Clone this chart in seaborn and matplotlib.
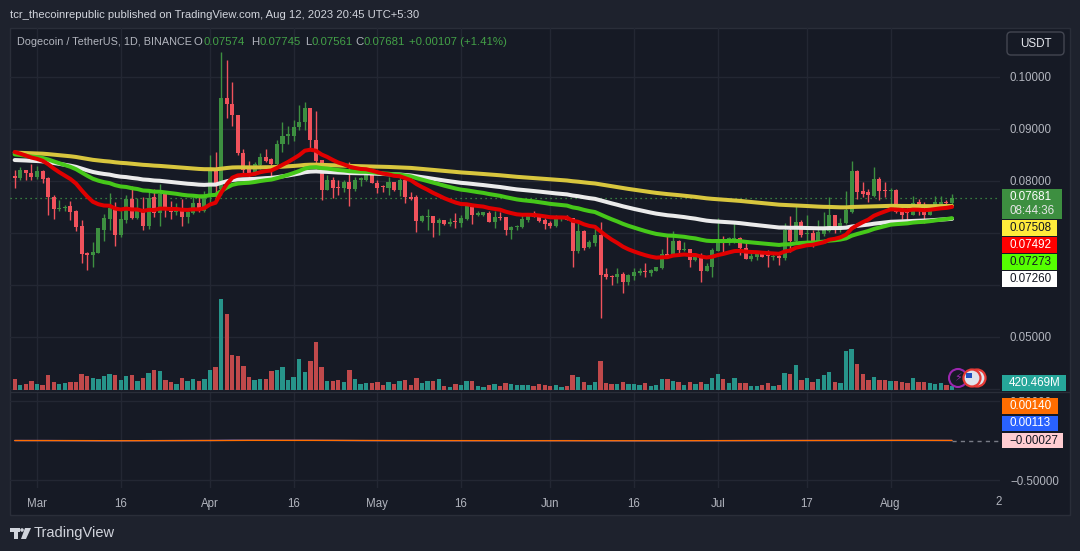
import numpy as np
import pandas as pd
import matplotlib
matplotlib.use("Agg")
import matplotlib.pyplot as plt
import matplotlib.patches as mpatches
from matplotlib.lines import Line2D
from matplotlib.transforms import IdentityTransform
import seaborn as sns

W, H = 1080, 551

# DOGE/USDT daily candles (Binance), 25 Feb 2023 -> 12 Aug 2023
dates = pd.date_range("2023-02-25", "2023-08-12", freq="D")

opens = [0.0810, 0.0806, 0.0822, 0.0816, 0.0808, 0.0819, 0.0806, 0.0770, 0.0746, 0.0748,
         0.0751, 0.0743, 0.0713, 0.0662, 0.0658, 0.0662, 0.0706, 0.0727, 0.0747, 0.0696,
         0.0725, 0.0765, 0.0729, 0.0747, 0.0713, 0.0769, 0.0739, 0.0776, 0.0747, 0.0741,
         0.0747, 0.0730, 0.0739, 0.0758, 0.0743, 0.0769, 0.0821, 0.0785, 0.0959, 0.0949,
         0.0927, 0.0853, 0.0824, 0.0813, 0.0831, 0.0847, 0.0842, 0.0833, 0.0871, 0.0886,
         0.0887, 0.0903, 0.0913, 0.0940, 0.0878, 0.0840, 0.0783, 0.0802, 0.0789, 0.0787,
         0.0799, 0.0785, 0.0802, 0.0802, 0.0817, 0.0797, 0.0790, 0.0786, 0.0799, 0.0783,
         0.0802, 0.0769, 0.0769, 0.0724, 0.0731, 0.0733, 0.0720, 0.0725, 0.0717, 0.0722,
         0.0719, 0.0726, 0.0751, 0.0735, 0.0735, 0.0739, 0.0722, 0.0731, 0.0730, 0.0706,
         0.0711, 0.0711, 0.0725, 0.0738, 0.0731, 0.0725, 0.0720, 0.0714, 0.0726, 0.0730,
         0.0728, 0.0666, 0.0704, 0.0674, 0.0681, 0.0696, 0.0621, 0.0617, 0.0616, 0.0621,
         0.0606, 0.0617, 0.0624, 0.0626, 0.0624, 0.0626, 0.0632, 0.0660, 0.0658, 0.0685,
         0.0667, 0.0669, 0.0648, 0.0658, 0.0627, 0.0635, 0.0666, 0.0688, 0.0681, 0.0683,
         0.0690, 0.0672, 0.0650, 0.0653, 0.0659, 0.0656, 0.0654, 0.0656, 0.0651, 0.0706,
         0.0685, 0.0722, 0.0698, 0.0700, 0.0685, 0.0699, 0.0703, 0.0735, 0.0705, 0.0719,
         0.0741, 0.0819, 0.0781, 0.0778, 0.0771, 0.0803, 0.0781, 0.0780, 0.0783, 0.0746,
         0.0739, 0.0735, 0.0760, 0.0744, 0.0735, 0.0750, 0.0756, 0.0760, 0.07574]

highs = [0.0822, 0.0826, 0.0822, 0.0833, 0.0829, 0.0822, 0.0808, 0.0773, 0.0764, 0.0754,
         0.0762, 0.0744, 0.0725, 0.0664, 0.0683, 0.0709, 0.0737, 0.0776, 0.0760, 0.0747,
         0.0773, 0.0790, 0.0767, 0.0769, 0.0780, 0.0784, 0.0794, 0.0780, 0.0762, 0.0757,
         0.0765, 0.0745, 0.0769, 0.0773, 0.0781, 0.0850, 0.0856, 0.1049, 0.1033, 0.0991,
         0.0927, 0.0862, 0.0838, 0.0837, 0.0853, 0.0862, 0.0844, 0.0879, 0.0913, 0.0906,
         0.0917, 0.0947, 0.0951, 0.0940, 0.0935, 0.0840, 0.0812, 0.0808, 0.0802, 0.0802,
         0.0836, 0.0808, 0.0808, 0.0819, 0.0818, 0.0802, 0.0792, 0.0808, 0.0799, 0.0816,
         0.0805, 0.0778, 0.0773, 0.0735, 0.0747, 0.0733, 0.0728, 0.0725, 0.0728, 0.0739,
         0.0735, 0.0755, 0.0751, 0.0742, 0.0741, 0.0742, 0.0743, 0.0740, 0.0730, 0.0714,
         0.0715, 0.0735, 0.0739, 0.0743, 0.0736, 0.0728, 0.0723, 0.0735, 0.0732, 0.0735,
         0.0728, 0.0722, 0.0706, 0.0686, 0.0713, 0.0722, 0.0632, 0.0619, 0.0632, 0.0625,
         0.0621, 0.0632, 0.0632, 0.0642, 0.0630, 0.0635, 0.0669, 0.0696, 0.0704, 0.0686,
         0.0683, 0.0670, 0.0661, 0.0661, 0.0643, 0.0672, 0.0728, 0.0694, 0.0693, 0.0722,
         0.0693, 0.0686, 0.0661, 0.0662, 0.0664, 0.0667, 0.0660, 0.0660, 0.0719, 0.0733,
         0.0754, 0.0725, 0.0735, 0.0706, 0.0725, 0.0741, 0.0770, 0.0735, 0.0728, 0.0781,
         0.0838, 0.0822, 0.0799, 0.0784, 0.0826, 0.0807, 0.0799, 0.0786, 0.0784, 0.0752,
         0.0748, 0.0771, 0.0765, 0.0760, 0.0754, 0.0771, 0.0771, 0.0763, 0.07745]

lows = [0.0786, 0.0801, 0.0801, 0.0801, 0.0803, 0.0797, 0.0735, 0.0727, 0.0743, 0.0742,
        0.0725, 0.0703, 0.0643, 0.0629, 0.0635, 0.0661, 0.0685, 0.0706, 0.0675, 0.0692,
        0.0719, 0.0727, 0.0727, 0.0706, 0.0707, 0.0730, 0.0713, 0.0731, 0.0727, 0.0735,
        0.0714, 0.0720, 0.0737, 0.0741, 0.0741, 0.0758, 0.0762, 0.0773, 0.0922, 0.0906,
        0.0850, 0.0813, 0.0805, 0.0812, 0.0823, 0.0836, 0.0805, 0.0831, 0.0855, 0.0871,
        0.0876, 0.0898, 0.0898, 0.0863, 0.0824, 0.0764, 0.0783, 0.0767, 0.0773, 0.0778,
        0.0751, 0.0780, 0.0791, 0.0800, 0.0796, 0.0776, 0.0778, 0.0773, 0.0781, 0.0771,
        0.0758, 0.0764, 0.0701, 0.0722, 0.0706, 0.0693, 0.0696, 0.0715, 0.0714, 0.0709,
        0.0712, 0.0725, 0.0717, 0.0733, 0.0733, 0.0722, 0.0710, 0.0725, 0.0696, 0.0688,
        0.0706, 0.0709, 0.0722, 0.0730, 0.0722, 0.0708, 0.0710, 0.0712, 0.0723, 0.0725,
        0.0635, 0.0662, 0.0668, 0.0672, 0.0675, 0.0536, 0.0611, 0.0600, 0.0604, 0.0585,
        0.0600, 0.0610, 0.0619, 0.0615, 0.0617, 0.0626, 0.0630, 0.0653, 0.0656, 0.0655,
        0.0666, 0.0635, 0.0647, 0.0605, 0.0627, 0.0615, 0.0666, 0.0664, 0.0677, 0.0681,
        0.0658, 0.0650, 0.0647, 0.0649, 0.0653, 0.0635, 0.0648, 0.0639, 0.0648, 0.0664,
        0.0679, 0.0692, 0.0677, 0.0674, 0.0679, 0.0694, 0.0701, 0.0700, 0.0701, 0.0717,
        0.0739, 0.0765, 0.0770, 0.0760, 0.0770, 0.0763, 0.0769, 0.0754, 0.0738, 0.0726,
        0.0725, 0.0734, 0.0735, 0.0720, 0.0734, 0.0747, 0.0752, 0.0750, 0.07561]

closes = [0.0806, 0.0822, 0.0815, 0.0808, 0.0819, 0.0804, 0.0769, 0.0746, 0.0748, 0.0749,
          0.0741, 0.0712, 0.0660, 0.0658, 0.0664, 0.0709, 0.0729, 0.0749, 0.0696, 0.0727,
          0.0765, 0.0728, 0.0746, 0.0713, 0.0767, 0.0739, 0.0775, 0.0744, 0.0741, 0.0747,
          0.0730, 0.0741, 0.0758, 0.0743, 0.0771, 0.0821, 0.0790, 0.0960, 0.0949, 0.0926,
          0.0853, 0.0821, 0.0812, 0.0832, 0.0847, 0.0839, 0.0833, 0.0872, 0.0887, 0.0890,
          0.0903, 0.0913, 0.0940, 0.0878, 0.0839, 0.0783, 0.0802, 0.0786, 0.0787, 0.0799,
          0.0785, 0.0802, 0.0805, 0.0817, 0.0796, 0.0787, 0.0789, 0.0799, 0.0783, 0.0802,
          0.0769, 0.0766, 0.0724, 0.0733, 0.0733, 0.0720, 0.0725, 0.0717, 0.0722, 0.0721,
          0.0728, 0.0751, 0.0735, 0.0738, 0.0740, 0.0722, 0.0731, 0.0729, 0.0706, 0.0712,
          0.0713, 0.0727, 0.0736, 0.0731, 0.0723, 0.0717, 0.0714, 0.0727, 0.0729, 0.0725,
          0.0666, 0.0704, 0.0672, 0.0683, 0.0696, 0.0619, 0.0616, 0.0616, 0.0621, 0.0606,
          0.0619, 0.0625, 0.0626, 0.0625, 0.0628, 0.0634, 0.0660, 0.0656, 0.0685, 0.0667,
          0.0669, 0.0648, 0.0658, 0.0627, 0.0636, 0.0667, 0.0688, 0.0681, 0.0690, 0.0690,
          0.0671, 0.0650, 0.0656, 0.0659, 0.0653, 0.0655, 0.0656, 0.0651, 0.0706, 0.0685,
          0.0722, 0.0696, 0.0700, 0.0685, 0.0702, 0.0706, 0.0735, 0.0705, 0.0719, 0.0744,
          0.0819, 0.0779, 0.0775, 0.0773, 0.0803, 0.0780, 0.0780, 0.0783, 0.0741, 0.0735,
          0.0738, 0.0758, 0.0743, 0.0735, 0.0752, 0.0760, 0.0760, 0.0757, 0.07681]

# volume in millions of DOGE
volumes = [1070, 500, 600, 900, 600, 500, 1500, 830, 600, 730,
           830, 830, 1600, 1400, 1230, 1100, 1400, 1600, 1500, 1000,
           1400, 1500, 930, 1170, 1730, 2000, 1900, 1000, 830, 600,
           1170, 930, 1070, 930, 1070, 2000, 2270, 9100, 7600, 3500,
           3400, 2400, 1270, 1000, 1070, 1070, 1900, 2000, 2270, 1000,
           1270, 3070, 1830, 2900, 4800, 2270, 930, 930, 1000, 830,
           2000, 1070, 600, 730, 730, 830, 500, 830, 600, 930,
           1000, 500, 1170, 730, 930, 930, 1070, 400, 330, 600,
           500, 900, 900, 400, 330, 500, 600, 400, 730, 600,
           500, 500, 500, 400, 600, 500, 400, 500, 330, 400,
           1500, 1270, 830, 500, 830, 2900, 730, 600, 600, 830,
           600, 600, 500, 730, 400, 500, 1070, 1070, 900, 830,
           500, 830, 600, 830, 600, 1170, 1600, 1070, 730, 1170,
           730, 730, 400, 400, 500, 730, 400, 500, 1730, 1600,
           2500, 1000, 1170, 830, 1070, 1500, 1800, 830, 730, 3900,
           4070, 2600, 1570, 1000, 1270, 1000, 1000, 930, 930, 830,
           730, 1170, 830, 830, 670, 600, 730, 500, 420.469]

tick_dates = pd.to_datetime(["2023-03-01", "2023-03-16", "2023-04-01", "2023-04-16",
                             "2023-05-01", "2023-05-16", "2023-06-01", "2023-06-16",
                             "2023-07-01", "2023-07-17", "2023-08-01"])
tick_labels = ["Mar", "16", "Apr", "16", "May", "16", "Jun", "16", "Jul", "17", "Aug"]

# EMA 200/100/50/20, with the level each line starts at on the left edge
ema_spans = [200, 100, 50, 20]
ema_seeds = [0.0855, 0.0841, 0.0853, 0.0861]
ema_colors = ["#d8c63e", "#ebebeb", "#46c81a", "#e00000"]

UP, DOWN = "#3d8f40", "#f0525c"
VOL_UP, VOL_DOWN = "#27948a", "#c0494b"
GRID = "#232733"
TXT = "#b2b5be"


def ema(values, span, seed):
    k = 2 / (span + 1)
    out, prev = [], seed
    for v in values:
        prev = prev + k * (v - prev)
        out.append(prev)
    return np.array(out)


df = pd.DataFrame({"date": dates, "open": opens, "high": highs, "low": lows,
                   "close": closes, "volume": volumes})
for span, seed in zip(ema_spans, ema_seeds):
    df[f"ema{span}"] = ema(df["close"], span, seed)
df["macd"] = ema(df["close"], 12, closes[0]) - ema(df["close"], 26, closes[0])
df["signal"] = ema(df["macd"], 9, 0.0)
df["histo"] = df["macd"] - df["signal"]

sns.set_theme(style="dark")
plt.rcParams["font.family"] = ["Liberation Sans", "DejaVu Sans"]

fig = plt.figure(figsize=(W / 100, H / 100), dpi=100, facecolor="#1e222d")


def px_text(x, y, s, **kw):
    fig.text(x, H - y, s, transform=IdentityTransform(), **kw)


def px_box(x0, y0, x1, y1, fc, **kw):
    fig.add_artist(mpatches.Rectangle((x0, H - y1), x1 - x0, y1 - y0,
                                      transform=IdentityTransform(), fc=fc, **kw))


# chart panel
px_box(10, 28, 1070, 515, "#161a25", ec="#2a2e39", lw=1, zorder=-1)
fig.add_artist(Line2D([10, 1070], [H - 391.5, H - 391.5], transform=IdentityTransform(),
                      color="#2a2e39", lw=1))

ax = fig.add_axes([10 / W, 1 - 391 / H, 990 / W, 363 / H])
ax2 = fig.add_axes([10 / W, 1 - 488 / H, 990 / W, 96 / H], sharex=ax)

# volume overlay (twin made first, since twinx moves the price ticks to the left)
vax = ax.twinx()
vax.bar(df["date"], df["volume"], width=0.78, color=np.where(df["close"] >= df["open"], VOL_UP, VOL_DOWN), lw=0)
vax.set_ylim(-100, 36200)
vax.set_axis_off()

for a in (ax, ax2):
    a.set_facecolor("none")
    for s in a.spines.values():
        s.set_visible(False)

# candles
up = df["close"] >= df["open"]
ccol = np.where(up, UP, DOWN)
ax.vlines(df["date"], df["low"], df["high"], colors=ccol, lw=1, zorder=3)
body = (df["close"] - df["open"]).abs().clip(lower=0.0002)
ax.bar(df["date"], body, bottom=np.minimum(df["open"], df["close"]), width=0.72,
       color=ccol, lw=0, zorder=3)

# moving averages
for span, color in zip(ema_spans, ema_colors):
    sns.lineplot(data=df, x="date", y=f"ema{span}", color=color, lw=2.9, ax=ax, zorder=4)

ax.axhline(closes[-1], color="#43a047", lw=0.9, ls=(0, (1, 3)), zorder=2)

XMIN, XMAX = pd.Timestamp("2023-02-24 03:50"), pd.Timestamp("2023-08-20 14:25")
ax.set_xlim(XMIN, XMAX)
ax.set_ylim(0.039615, 0.109423)
ax.set_xticks(tick_dates)
ax.set_yticks([0.04, 0.05, 0.06, 0.07, 0.08, 0.09, 0.10])
ax.set_yticklabels(["", "0.05000", "", "", "0.08000", "0.09000", "0.10000"])
ax.yaxis.tick_right()
ax.tick_params(axis="y", length=0, pad=7.2, labelsize=8.3, labelcolor=TXT,
               left=False, labelleft=False, right=False, labelright=True)
ax.tick_params(axis="x", length=0, labelbottom=False)
ax.grid(True, color=GRID, lw=1)
ax.set_xlabel("")
ax.set_ylabel("")

# MACD pane
hdiff = df["histo"].diff().fillna(0)
hcol = np.where(df["histo"] >= 0,
                np.where(hdiff >= 0, "#26a69a", "#b2dfdb"),
                np.where(hdiff <= 0, "#ff5252", "#ffcdd2"))
ax2.bar(df["date"], df["histo"], width=0.72, color=hcol, lw=0)
sns.lineplot(data=df, x="date", y="macd", color="#2962ff", lw=1, ax=ax2)
sns.lineplot(data=df, x="date", y="signal", color="#ff6d00", lw=1, ax=ax2)
ax2.plot([df["date"].iloc[-1], XMAX], [df["histo"].iloc[-1]] * 2,
         color="#787b86", lw=1, ls=(0, (3, 3)))
ax2.set_ylim(-0.60, 0.614)
ax2.set_yticks([-0.5, 0.5])
ax2.set_yticklabels(["\u22120.50000", "0.50000"])
ax2.yaxis.tick_right()
ax2.tick_params(axis="y", length=0, pad=7.2, labelsize=8.3, labelcolor=TXT)
ax2.set_xticks(tick_dates)
ax2.set_xticklabels(tick_labels)
ax2.tick_params(axis="x", length=0, pad=7, labelsize=8.3, labelcolor=TXT)
ax2.grid(True, color=GRID, lw=1)
ax2.set_xlabel("")
ax2.set_ylabel("")
ax.set_xlim(XMIN, XMAX)
px_text(999, 502, "2", color=TXT, fontsize=8.3, ha="center", va="center")

# header
px_text(10, 15, "tcr_thecoinrepublic published on TradingView.com, Aug 12, 2023 20:45 UTC+5:30",
        color="#d1d4dc", fontsize=8.1, va="center")
GREEN = "#43a047"
px_text(17, 42, "Dogecoin / TetherUS, 1D, BINANCE", color=TXT, fontsize=7.8, va="center")
header = [(194, "O", TXT), (204, "0.07574", GREEN),
          (251, "H", TXT), (259, "0.07745", GREEN), (305, "L", TXT), (311, "0.07561", GREEN),
          (355, "C", TXT), (363, "0.07681", GREEN), (409, "+0.00107 (+1.41%)", GREEN)]
for x, s, c in header:
    px_text(x, 42, s, color=c, fontsize=8.2, va="center")

# USDT button
fig.add_artist(mpatches.FancyBboxPatch((1007, H - 55), 57, 23, boxstyle="round,pad=0,rounding_size=4",
                                       transform=IdentityTransform(), fc="#161a25", ec="#434651", lw=1))
px_text(1035.5, 44, "USDT", color="#e6e8ee", fontsize=8.4, ha="center", va="center")

# price scale tags
tags = [(189, 219, "#3d8f40", "white", 1062), (220, 236, "#ffeb3b", "#131722", 1057),
        (237, 253, "#ff0000", "white", 1057), (254, 270, "#55ff00", "#131722", 1057),
        (271, 287, "#ffffff", "#131722", 1057), (375, 391, "#26a69a", "white", 1066),
        (398, 414, "#ff6d00", "white", 1058), (416, 431, "#2962ff", "white", 1058),
        (433, 448, "#ffcdd2", "#131722", 1063)]
tag_texts = ["0.07681", "0.07508", "0.07492", "0.07273", "0.07260", "420.469M",
             "0.00140", "0.00113", "\u22120.00027"]
for (y0, y1, fc, tc, x1), s in zip(tags, tag_texts):
    px_box(1002, y0, x1, y1, fc, ec="none", zorder=5)
    yc = 197 if s == "0.07681" else (y0 + y1) / 2
    px_text(1009, yc, s, color=tc, fontsize=8.4, va="center", zorder=6)
px_text(1009, 211, "08:44:36", color="#e6e6e6", fontsize=8.4, va="center", zorder=6)

# event icons next to the last candle
fig.add_artist(mpatches.Circle((958, H - 378), 9, transform=IdentityTransform(),
                               fc="#161a25", ec="#9c27b0", lw=1.5, zorder=5))
px_text(958, 378, "\u26a1", color="#9c27b0", fontsize=8, ha="center", va="center",
        family="DejaVu Sans", zorder=6)
for cx in (977, 972):
    fig.add_artist(mpatches.Circle((cx, H - 378), 8.5, transform=IdentityTransform(),
                                   fc="#dfe3ec", ec="#e53935", lw=1.6, zorder=5))
fig.add_artist(mpatches.Rectangle((966, H - 378), 6, 5, transform=IdentityTransform(),
                                  fc="#1e4fbf", ec="none", zorder=6))

# TradingView logo
LOGO = "#d1d4dc"
px_box(10, 528, 20, 531.5, LOGO, ec="none")
px_box(14, 528, 18, 539, LOGO, ec="none")
fig.add_artist(mpatches.Circle((22, H - 530), 1.8, transform=IdentityTransform(), fc=LOGO, ec="none"))
fig.add_artist(mpatches.Polygon([(25, H - 528), (31, H - 528), (26, H - 539), (21, H - 539)],
                                transform=IdentityTransform(), fc=LOGO, ec="none"))
px_text(34, 533, "TradingView", color=LOGO, fontsize=10.5, va="center")

fig.savefig("out.png", dpi=100, facecolor=fig.get_facecolor())
